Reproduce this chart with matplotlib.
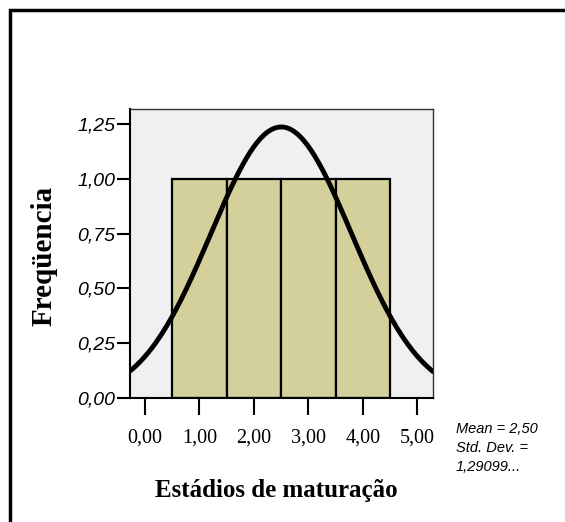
import numpy as np
import matplotlib
matplotlib.use("Agg")
import matplotlib.pyplot as plt
from matplotlib.patches import Rectangle

# histogram data (SPSS output)
bin_centers = [1, 2, 3, 4]
counts = [1, 1, 1, 1]
bin_width = 1.0
mean = 2.50
std_dev = 1.29099

x_ticks = [0, 1, 2, 3, 4, 5]
x_ticklabels = ["0,00", "1,00", "2,00", "3,00", "4,00", "5,00"]
y_ticks = [0, 0.25, 0.5, 0.75, 1.0, 1.25]
y_ticklabels = ["0,00", "0,25", "0,50", "0,75", "1,00", "1,25"]

W, H = 565, 522
fig = plt.figure(figsize=(W / 100, H / 100), dpi=100)
ax = fig.add_axes([130 / W, 1 - 398 / H, 303 / W, 289 / H])
ax.set_facecolor("#f0f0f0")

ax.bar(bin_centers, counts, width=bin_width, color="#d4d09b",
       edgecolor="black", linewidth=1.6, zorder=2)

# fitted normal curve scaled to counts
xs = np.linspace(-0.3, 5.3, 400)
n = sum(counts)
ys = n * bin_width / (std_dev * np.sqrt(2 * np.pi)) * np.exp(-0.5 * ((xs - mean) / std_dev) ** 2)
ax.plot(xs, ys, color="black", linewidth=3.5, zorder=3, solid_capstyle="butt")

ax.set_xlim(-0.275, 5.285)
ax.set_ylim(0, 1.318)

ax.set_xticks(x_ticks)
ax.set_xticklabels(x_ticklabels, fontfamily="Liberation Serif", fontsize=14.5)
ax.set_yticks(y_ticks)
ax.set_yticklabels(y_ticklabels, fontfamily="Liberation Sans", fontstyle="italic", fontsize=14)
ax.tick_params(axis="x", length=12, width=1.5, pad=10, color="black")
ax.tick_params(axis="y", length=9.5, width=1.5, pad=1, color="black")

for s in ax.spines.values():
    s.set_color("#333333")
    s.set_linewidth(1.0)
ax.spines["bottom"].set_linewidth(1.5)
ax.spines["bottom"].set_color("black")
ax.spines["left"].set_linewidth(1.5)
ax.spines["left"].set_color("black")

fig.text(44 / W, 1 - 256 / H, "Freqüencia", rotation=90, ha="center", va="center",
         fontfamily="Liberation Serif", fontweight="bold", fontsize=21)
fig.text(276 / W, 1 - 491 / H, "Estádios de maturação", ha="center", va="center",
         fontfamily="Liberation Serif", fontweight="bold", fontsize=18)

fig.text(456 / W, 1 - 448 / H, "Mean = 2,50\nStd. Dev. =\n1,29099...", ha="left", va="center",
         fontfamily="Liberation Sans", fontstyle="italic", fontsize=10.5, linespacing=1.45)

# outer frame (runs off the right and bottom edges)
fig.add_artist(Rectangle((9.5 / W, -0.2), 1.5, 1.2 - 9.5 / H, transform=fig.transFigure,
                         fill=False, edgecolor="black", linewidth=2.5))

fig.savefig("out.png", dpi=100)
